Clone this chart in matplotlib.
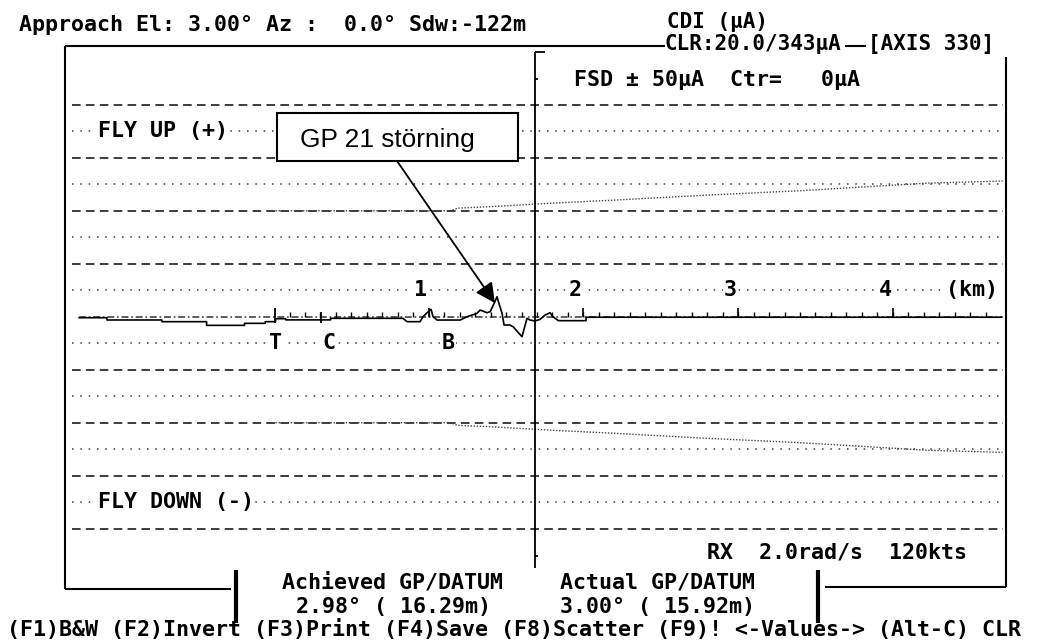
import numpy as np
import matplotlib
matplotlib.use('Agg')
import matplotlib.pyplot as plt
from matplotlib.lines import Line2D
from matplotlib.patches import Rectangle

W, H = 1039, 644

# CDI trace: distance from threshold (km), deviation (uA)
trace = [(-1.21, -0.19), (-1.03, -0.19), (-1.03, -0.62), (-0.675, -0.62),
         (-0.675, -0.94), (-0.386, -0.94), (-0.386, -1.63), (-0.141, -1.63),
         (-0.141, -1.25), (-0.007, -1.25), (-0.007, -0.94), (0.06, -0.94),
         (0.06, -0.38), (0.126, -0.38), (0.126, -0.6), (0.416, -0.6),
         (0.416, -0.3), (0.883, -0.3), (0.91, -0.94), (0.994, -0.94),
         (1.013, 0.0), (1.046, 0.94), (1.065, 1.4), (1.078, 0.0),
         (1.104, -0.63), (1.253, -0.63), (1.298, 0.0), (1.362, 0.63),
         (1.382, 1.26), (1.427, 0.75), (1.447, 0.94), (1.478, 2.83),
         (1.491, 3.77), (1.504, 2.5), (1.524, 0.63), (1.537, -1.57),
         (1.575, -1.57), (1.595, -1.89), (1.653, -3.77), (1.685, -0.31),
         (1.705, -0.63), (1.737, -0.8), (1.770, -0.5), (1.801, 0.3),
         (1.834, 0.75), (1.853, 0.0), (1.888, -0.75), (2.067, -0.75),
         (2.067, -0.1), (4.75, -0.1)]

# clearance limits (+/- uA)
limit_km = [0.0, 1.19, 1.24, 1.44, 1.83, 2.25, 2.85, 3.47, 3.87, 4.27, 4.76]
limit_ua = [20.0, 20.0, 20.5, 20.75, 21.4, 22.0, 22.95, 23.8, 24.5, 25.2, 25.6]

dashed_ua = [-40, -30, -20, -10, 10, 20, 30, 40]
dotted_ua = [-35, -25, -15, -5, 5, 15, 25, 35]

km_labels = ['1', '2', '3', '4']
km_pos = [1, 2, 3, 4]
point_labels = ['T', 'C', 'B']
point_km = [0.06, 0.405, 1.174]
point_marks = [0.055, 0.355]
marker_km = np.round(np.arange(0.15, 4.7, 0.1), 2)  # 100 m marks
km_marks = [1.05, 2.05, 3.05, 4.05]

FS = 15.6
plt.rcParams['font.family'] = ['DejaVu Sans Mono']
plt.rcParams['lines.scale_dashes'] = False

fig = plt.figure(figsize=(W / 100, H / 100), dpi=100)
ax = fig.add_axes([65 / W, 1 - 589 / H, (1006 - 65) / W, (589 - 46) / H])
ax.set_xlim(-1.3012, 4.7815)
ax.set_ylim(-51.38, 51.08)
ax.axis('off')

gx0, gx1 = -1.256, 4.76
ax.hlines(dashed_ua, gx0, gx1, colors='#3c3c3c', lw=1.4, linestyles=[(0, (6.2, 3.8))])
ax.hlines(dotted_ua, gx0, gx1, colors='#3c3c3c', lw=1.1, linestyles=[(0, (1.1, 4.9))])
ax.hlines(0, -1.21, 4.76, colors='#333333', lw=1.1, linestyles=[(0, (5, 2, 1.2, 2))])

ax.plot(limit_km, limit_ua, color='#444444', lw=1.0, ls=(0, (1, 1.2)))
ax.plot(limit_km, [-v for v in limit_ua], color='#444444', lw=1.0, ls=(0, (1, 1.2)))

tk = np.array(trace)
ax.plot(tk[:, 0], tk[:, 1], color='black', lw=1.2, zorder=5)
ax.vlines(marker_km, 0, 0.8, colors='black', lw=1.0, zorder=5)
ax.vlines(km_marks, 0, 1.6, colors='black', lw=1.2, zorder=5)
ax.vlines(point_marks, -1.25, [1.64, 0.94], colors='black', lw=1.3, zorder=5)

lab = dict(fontsize=FS, fontweight='bold', va='center', zorder=6,
           bbox=dict(fc='white', ec='none', pad=1.0))
for s, x in zip(km_labels, km_pos):
    ax.text(x, 5, s, ha='center', **lab)
ax.text(4.56, 5, '(km)', ha='center', **lab)
for s, x in zip(point_labels, point_km):
    ax.text(x, -5, s, ha='center', **lab)
ax.text(-1.088, 35, 'FLY UP (+)', ha='left', **lab)
ax.text(-1.088, -35, 'FLY DOWN (-)', ha='left', **lab)

# callout box
box = Rectangle((0.069, 29.38), 1.627 - 0.069, 38.43 - 29.38, fc='white',
                ec='black', lw=1.5, zorder=8)
ax.add_patch(box)
t = ax.text(0.218, 32.0, 'GP 21 störning', fontsize=18.9, va='baseline',
            ha='left', family='Liberation Sans', zorder=9)
clip = Rectangle((0.069, 31.45), 1.627 - 0.069, 38.43 - 31.45,
                 transform=ax.transData, fc='none', ec='none')
t.set_clip_path(clip)
ax.annotate('', xy=(1.478, 2.58), xytext=(0.845, 29.38), zorder=9,
            arrowprops=dict(arrowstyle='-|>,head_length=0.6,head_width=0.3',
                            mutation_scale=20, color='black', lw=1.3,
                            shrinkA=0, shrinkB=0))


def fline(x0, y0, x1, y1, lw=1.5):
    fig.add_artist(Line2D([x0 / W, x1 / W], [1 - y0 / H, 1 - y1 / H],
                          lw=lw, color='black', solid_capstyle='butt'))


def ftext(x, y, s, size=FS, **kw):
    fig.text(x / W, 1 - y / H, s, ha='left', va='baseline', fontsize=size,
             fontweight='bold', **kw)


# screen frame
fline(65, 46, 665, 46)
fline(845, 46, 866, 46)
fline(65, 46, 65, 589)
fline(65, 589, 231, 589)
fline(236, 570, 236, 623, lw=3)
fline(818, 570, 818, 623, lw=3)
fline(825, 587, 1006, 587)
fline(1006, 57, 1006, 587)
fline(535, 52, 535, 568, lw=1.3)
fline(535, 52, 545, 52, lw=1.3)
fline(535, 79, 538, 79, lw=1.3)
fline(535, 556, 538, 556, lw=1.3)

ftext(19, 31, 'Approach El: 3.00° Az :  0.0° Sdw:-122m')
ftext(667, 28, 'CDI (μA)', size=15.0)
ftext(665, 50, 'CLR:20.0/343μA', size=15.0)
ftext(868, 50, '[AXIS 330]', size=15.0)
ftext(574, 86, 'FSD ± 50μA  Ctr=   0μA')
ftext(707, 559, 'RX  2.0rad/s  120kts')
ftext(282, 589, 'Achieved GP/DATUM')
ftext(296, 613, '2.98° ( 16.29m)')
ftext(560, 589, 'Actual GP/DATUM')
ftext(560, 613, '3.00° ( 15.92m)')
ftext(7, 636, '(F1)B&W (F2)Invert (F3)Print (F4)Save (F8)Scatter (F9)! <-Values-> (Alt-C) CLR')

fig.savefig('out.png', dpi=100, facecolor='white')
